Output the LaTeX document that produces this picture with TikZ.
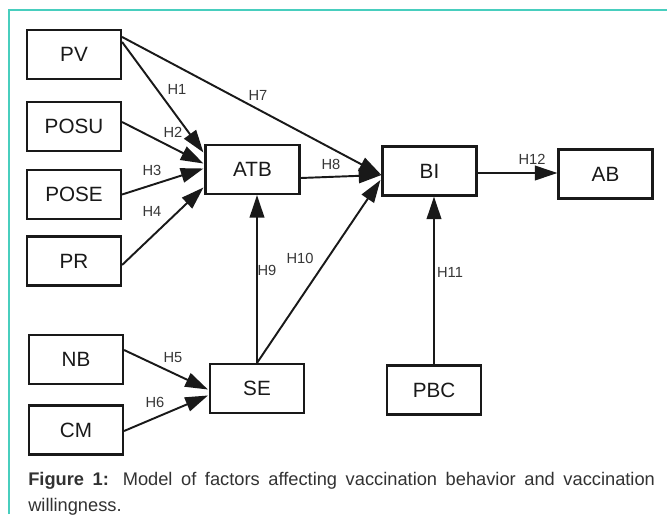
\documentclass[tikz,border=0pt]{standalone}
\usepackage{fontspec}
\setmainfont{Liberation Sans}
\usetikzlibrary{arrows.meta,calc}
\definecolor{frameteal}{RGB}{72,206,190}
\definecolor{captxt}{RGB}{50,50,50}
\definecolor{boxtxt}{RGB}{25,25,25}
\definecolor{lbltxt}{RGB}{55,55,55}
\tikzset{
  x=0.75pt, y=-0.75pt,
  box/.style={draw=boxtxt, line width=1.6pt, minimum width=70.5pt, minimum height=36.75pt,
    inner sep=0pt, text=boxtxt, font=\fontsize{15.5}{18}\selectfont},
  conn/.style={draw=black!90, line width=1.45pt, -{Triangle[length=17pt,width=11pt]}},
  hlbl/.style={text=lbltxt, inner sep=0pt, font=\fontsize{11}{13}\selectfont},
}
\begin{document}
\begin{tikzpicture}
\useasboundingbox (0,0) rectangle (667,525);
\fill[white] (0,0) rectangle (667,525);
% frame
\draw[frameteal, line width=0.9pt] (9,514) -- (9,10) -- (667,10);

% boxes
\node[box] (PV)   at (74,54.5)   {PV};
\node[box] (POSU) at (74,126.5)  {POSU};
\node[box] (POSE) at (74,194.5)  {POSE};
\node[box] (PR)   at (74,261)    {PR};
\node[box] (ATB)  at (252.5,169.5) {ATB};
\node[box] (BI)   at (429.5,171) {BI};
\node[box] (AB)   at (605.5,174) {AB};
\node[box] (NB)   at (76,359.5)  {NB};
\node[box] (CM)   at (76,430)    {CM};
\node[box] (SE)   at (257,388.5) {SE};
\node[box] (PBC)  at (434,390) {PBC};

% connectors
\draw[conn] ($(PV.north east)+(0,13)$) -- ($(ATB.west)+(-1,-17)$);
\draw[conn] ($(PV.north east)+(0,8)$) -- ($(BI.west)+(0,4)$);
\draw[conn] ($(POSU.east)+(0,-4.5)$) -- ($(ATB.west)+(-1,-6)$);
\draw[conn] (POSE.east) -- ($(ATB.west)+(-1,-1)$);
\draw[conn] ($(PR.east)+(0,4)$) -- ($(ATB.west)+(-1,18)$);
\draw[conn] ($(ATB.east)+(0,8.5)$) -- ($(BI.west)+(0,4)$);
\draw[conn] (SE.north) -- (SE.north |- ATB.south);
\draw[conn] (SE.north) -- ($(BI.west)+(-1,9)$);
\draw[conn] (PBC.north) -- (PBC.north |- BI.south);
\draw[conn] ($(BI.east)+(0,2)$) -- ($(AB.west)+(0,-1)$);
\draw[conn] ($(NB.east)+(0,-9.5)$) -- ($(SE.west)+(-1,1)$);
\draw[conn] ($(CM.east)+(0,1)$) -- ($(SE.west)+(-1,7)$);

% labels
\node[hlbl] (l1)  at (177,89)  {H1};
\node[hlbl] (l7)  at (258,95)  {H7};
\node[hlbl] (l2)  at (173,132) {H2};
\node[hlbl] (l3)  at (152,170) {H3};
\node[hlbl] (l4)  at (152,211) {H4};
\node[hlbl] (l8)  at (331,164) {H8};
\node[hlbl] (l12) at (532,159) {H12};
\node[hlbl] (l9)  at (267,270) {H9};
\node[hlbl] (l10) at (300,258) {H10};
\node[hlbl] (l11) at (450,272) {H11};
\node[hlbl] (l5)  at (173,358) {H5};
\node[hlbl] (l6)  at (155,402) {H6};

% caption
\node[anchor=north west, inner sep=0pt, text width=470pt, align=justify, text=captxt,
  font=\fontsize{13.7}{19.5}\selectfont] (cap) at (28,472)
  {\textbf{Figure 1:} Model of factors affecting vaccination behavior and vaccination\linebreak willingness.};
\end{tikzpicture}
\end{document}
